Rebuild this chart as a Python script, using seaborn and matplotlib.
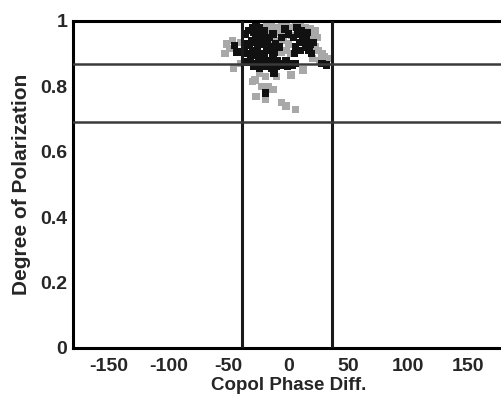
import pandas as pd
import matplotlib
matplotlib.use("Agg")
import matplotlib.pyplot as plt
import seaborn as sns

# scatter values (phase diff in degrees, degree of polarization)
dark_phase = [-36, -33, -30, -27, -24, -20,
              -35, -31, -27, -24, -20, -16, -13,
              -34, -30, -26, -22, -18, -15, -11, -8,
              -32, -28, -25, -21, -17, -13, -9, -5, -2, 2,
              -29, -24, -19, -14, -10, -6, -1, 3, 6,
              4, 8, 12, 15, 18, 6, 10, 14, 19, 7, 11, 16,
              -19, -12, -45, -43, 28, 32, -3, 0, -6,
              -37, -33, -29, -25, -22, -18, -14, -30, -26, -22,
              -15, -12, 9, 13, 17, 21, 5, -34, -28, -20]
dark_dop = [0.96, 0.97, 0.98, 0.99, 0.98, 0.97,
            0.93, 0.94, 0.95, 0.94, 0.93, 0.95, 0.96,
            0.90, 0.91, 0.92, 0.90, 0.91, 0.92, 0.93, 0.92,
            0.88, 0.87, 0.88, 0.87, 0.88, 0.89, 0.88, 0.87, 0.88, 0.87,
            0.86, 0.855, 0.86, 0.855, 0.86, 0.865, 0.86, 0.865, 0.87,
            0.95, 0.96, 0.94, 0.95, 0.93, 0.92, 0.91, 0.92, 0.90, 0.98, 0.97, 0.965,
            0.78, 0.84, 0.925, 0.905, 0.87, 0.865, 0.975, 0.96, 0.95,
            0.915, 0.925, 0.965, 0.96, 0.955, 0.94, 0.91, 0.895, 0.90, 0.885,
            0.875, 0.905, 0.935, 0.955, 0.91, 0.935, 0.90, 0.875, 0.935, 0.89]

gray_phase = [-18, -14, -10, -6, -2, 2, 6, 10, 14, 18, 22,
              -16, -12, -8, -4, 0, 3, 20, 24,
              -12, -8, -4, 0, -10, -6, -2, 2,
              22, 25, 28, 30, 26, 33, 20,
              -52, -49, -53, -47, -40, -46,
              -24, -19, -28, -17, -13, -27, -19, -10, 2, -6, -2, 6, -30, -22, 12, -40]
gray_dop = [0.99, 0.985, 0.98, 0.99, 0.985, 0.98, 0.99, 0.985, 0.98, 0.975, 0.97,
            0.96, 0.965, 0.97, 0.96, 0.97, 0.955, 0.955, 0.95,
            0.94, 0.935, 0.94, 0.93, 0.915, 0.905, 0.91, 0.90,
            0.92, 0.91, 0.90, 0.89, 0.88, 0.885, 0.885,
            0.93, 0.915, 0.90, 0.94, 0.935, 0.855,
            0.84, 0.83, 0.82, 0.80, 0.79, 0.77, 0.76, 0.83, 0.835, 0.75, 0.74, 0.73, 0.815, 0.80, 0.85, 0.87]

# threshold lines
phase_bounds = [-39, 36]
dop_bounds = [0.69, 0.87]

xticks = [-150, -100, -50, 0, 50, 100, 150]
yticks = [0, 0.2, 0.4, 0.6, 0.8, 1]
ytick_labels = ["0", "0.2", "0.4", "0.6", "0.8", "1"]

df = pd.DataFrame({
    "phase": gray_phase + dark_phase,
    "dop": gray_dop + dark_dop,
    "group": ["gray"] * len(gray_phase) + ["dark"] * len(dark_phase),
})

sns.set_style("white")
plt.rcParams["font.family"] = ["Liberation Sans", "DejaVu Sans"]
plt.rcParams["font.weight"] = "bold"
plt.rcParams["axes.unicode_minus"] = False

fig = plt.figure(figsize=(5.02, 4.03), dpi=100)
ax = fig.add_axes([0.1454, 0.1365, 0.8586, 0.8114])

sns.scatterplot(data=df, x="phase", y="dop", hue="group",
                palette={"gray": "#a8a8a8", "dark": "#111111"},
                s=28, marker="s", linewidth=0, legend=False, ax=ax)

for xv in phase_bounds:
    ax.axvline(xv, color="#1a1a1a", lw=2.2, zorder=3)
for yv in dop_bounds:
    ax.axhline(yv, color="#3a3a3a", lw=1.8, zorder=3)

ax.set_xlim(-180, 180)
ax.set_ylim(0, 1)
ax.set_xticks(xticks)
ax.set_yticks(yticks)
ax.set_yticklabels(ytick_labels)
ax.tick_params(axis="x", length=0, labelsize=14, pad=7)
ax.tick_params(axis="y", length=0, labelsize=14, pad=4)
for lab in ax.get_xticklabels() + ax.get_yticklabels():
    lab.set_fontweight("bold")
ax.set_xlabel("Copol Phase Diff.", fontsize=13.5, fontweight="bold", labelpad=2)
ax.set_ylabel("Degree of Polarization", fontsize=15, fontweight="bold", labelpad=7)

for sp in ax.spines.values():
    sp.set_linewidth(2.2)
    sp.set_color("black")

fig.savefig("out.png", dpi=100)
